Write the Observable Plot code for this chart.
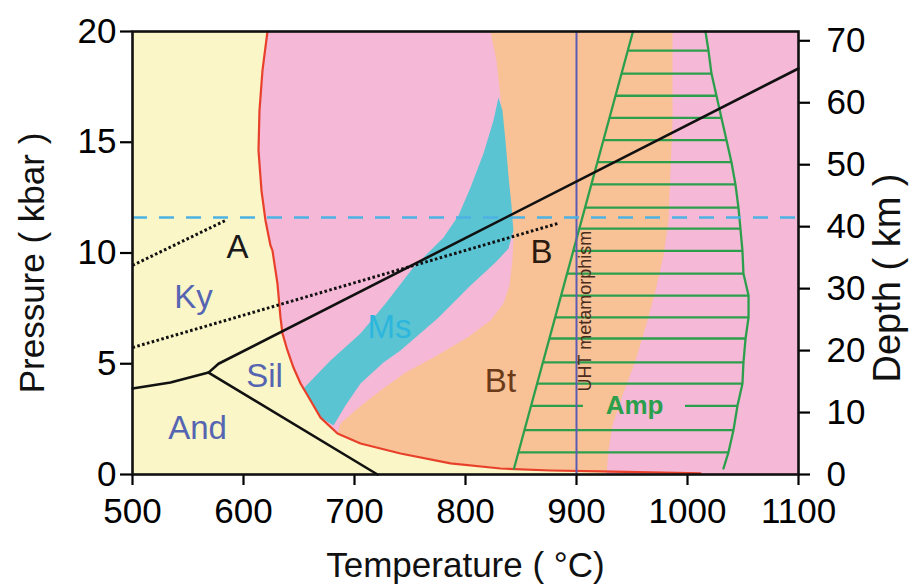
<!DOCTYPE html>
<html><head><meta charset="utf-8">
<script src="https://cdn.jsdelivr.net/npm/d3@7"></script>
<script src="https://cdn.jsdelivr.net/npm/@observablehq/plot@0.6"></script>
<style>body{margin:0;background:#fff}svg{display:block}</style>
</head><body><div id="chart"></div>
<script>
// ---- axes ----
const xTicks = [500, 600, 700, 800, 900, 1000, 1100];
const pTicks = [0, 5, 10, 15, 20];
const depthTicks = [0, 10, 20, 30, 40, 50, 60, 70];
const kmPerKbar = 3.575;

// ---- field boundaries [T (°C), P (kbar)] ----
const solidus = [[621.6,20],[617.1,18.24],[614.4,16.43],[613.5,14.63],[616.2,12.82],[619.8,11.47],[624.3,10.34],[626.1,10.11],[630.6,8.62],[633.3,7.09],[635.1,6.37],[639.6,5.6],[645.0,4.83],[651.4,4.11],[660.4,3.34],[669.4,2.57],[684.7,1.85],[705.4,1.4],[741.4,0.95],[786.5,0.5],[831.5,0.27],[876.6,0.18],[921.6,0.14],[1011.7,0.05]];
const btEdge = [[822.5,20],[827.9,18.69],[831.5,17.02],[834.2,15.53],[836.9,13.95],[840.5,12.37],[843.2,10.7],[842.3,9.66],[839.6,8.53],[834.2,7.72],[822.5,6.95],[801.8,6.19],[771.2,5.28],[746,4.6],[723.4,3.79],[702.7,2.98],[687.4,2.3],[684.7,1.85]];
const hotEdge = [[986.5,20],[986.5,15.98],[982.9,11.47],[978.4,9.89],[971.2,8.31],[964,6.95],[953.2,5.15],[941.4,3.57],[932.4,2.21],[928.8,1.08],[927,0]];
const msBand = [[829.7,17.02],[833.3,16.43],[836,15.08],[838.7,13.5],[841.4,12.14],[843.2,11.02],[838.7,10.2],[827,9.57],[804.5,8.53],[774.8,7.04],[741.4,5.6],[726.1,5.06],[705.4,4.11],[691.9,3.12],[681.1,2.21],[669.4,2.57],[660.4,3.34],[654.1,3.88],[678.4,5.15],[705.4,6.37],[728,7.72],[752.3,9.3],[764,9.89],[780.2,10.7],[793.7,11.69],[804.5,12.96],[816.2,14.49],[825.2,15.98]];

// ---- lines ----
const kySil = [[568.5,4.6],[577.5,5.0],[1100,18.33]];
const andKy = [[500,3.88],[534.2,4.15],[568.5,4.6]];
const andSil = [[568.5,4.6],[720.7,0]];
const dotA = [[500,9.44],[583.8,11.47]];
const dotB = [[500,5.73],[882.9,11.33]];
const dashedP = [11.6];
const uhtT = [900];

// ---- amphibole field ----
const ampLeft = [[950.9,20],[843.7,0.27]];
const ampRight = [[1016.2,20],[1018.9,19.14],[1021.6,18.1],[1026.1,17.1],[1030.6,16.1],[1035.1,15.1],[1039.6,14.1],[1043.2,13.1],[1045.9,12.05],[1047.7,11.1],[1049.5,10.1],[1050.4,9.07],[1055,8.08],[1055,7.09],[1052.3,6.14],[1050.4,5.06],[1049.5,4.1],[1045,3.1],[1041.4,2.0],[1036.9,1.0],[1032.4,0.27]];
const hatchP = [19.14,18.1,17.1,16.1,15.1,14.1,13.1,12.05,11.1,10.1,9.07,8.08,7.09,6.14,5.06,4.1,3.1,2.0,1.0];
const hatchLeftT = [946.2,940.6,935.1,929.7,924.3,918.8,913.4,907.7,902.5,897.1,891.5,886.1,880.8,875.6,869.7,864.5,859.1,853.1,847.7];
const hatchRightT = [1018.9,1021.6,1026.1,1030.6,1035.1,1039.6,1043.2,1045.9,1047.7,1049.5,1050.4,1055,1055,1052.3,1050.4,1049.5,1045,1041.4,1036.9];
const hatchGapP = 3.1, hatchGap = [906.3, 998.2];

// ---- labels ----
const labelText = ["A","B","Ky","Sil","And","Ms","Bt"];
const labelT = [594.6,868.5,555,618.9,558.6,731.5,831.5];
const labelP = [10.25,10.02,7.99,4.42,2.08,6.64,4.2];
const labelColor = ["#1a1a1a","#2a1a10","#5565b2","#5565b2","#5565b2","#2cb6dd","#6b3a18"];

const yellow = "#faf6c7", pink = "#f5b8d6", orange = "#f8c196", cyan = "#5bc4d3", green = "#2c9f4d";

const pt = a => a.map(([T,P]) => ({T,P}));
const pinkPoly = pt([...solidus, [1100,0],[1100,20]]);
const orangePoly = pt([...btEdge, ...solidus.filter(d => d[1] < 1.85), [1100,0],[1100,20]]);
const hotPoly = pt([...hotEdge, [1100,0],[1100,20]]);
const msPoly = pt(msBand);

const hatches = [];
hatchP.forEach((p,i) => {
  if (p === hatchGapP) {
    hatches.push({p, t1: hatchLeftT[i], t2: hatchGap[0]});
    hatches.push({p, t1: hatchGap[1], t2: hatchRightT[i]});
  } else hatches.push({p, t1: hatchLeftT[i], t2: hatchRightT[i]});
});
const labels = labelText.map((t,i) => ({t, T: labelT[i], P: labelP[i], c: labelColor[i]}));

const poly = (d, fill) => Plot.line(d, {x:"T", y:"P", fill, stroke:"none"});
const ln = (d, o) => Plot.line(pt(d), {x:"T", y:"P", ...o});
const font = "Liberation Sans, Arial, Helvetica, sans-serif";

const chart = Plot.plot({
  width: 915, height: 585,
  marginLeft: 132, marginRight: 117, marginTop: 31, marginBottom: 111,
  style: {fontFamily: font, background: "#fff"},
  x: {domain: [500, 1100]},
  y: {domain: [0, 20]},
  marks: [
    Plot.frame({fill: yellow, stroke: "none"}),
    poly(pinkPoly, pink),
    poly(orangePoly, orange),
    poly(hotPoly, pink),
    poly(msPoly, cyan),
    ln(solidus, {stroke: "#e8402a", strokeWidth: 2.2}),
    Plot.ruleY(hatches, {y: "p", x1: "t1", x2: "t2", stroke: green, strokeWidth: 2.3}),
    ln(ampLeft, {stroke: green, strokeWidth: 2.3}),
    ln(ampRight, {stroke: green, strokeWidth: 2.3}),
    Plot.ruleX(uhtT, {y1: 0, y2: 20, stroke: "#5a5cb3", strokeWidth: 2}),
    Plot.ruleY(dashedP, {stroke: "#4cb2e4", strokeWidth: 2.6, strokeDasharray: "15,12"}),
    ln(kySil, {stroke: "#111", strokeWidth: 2.6}),
    ln(andKy, {stroke: "#111", strokeWidth: 2.6}),
    ln(andSil, {stroke: "#111", strokeWidth: 2.6}),
    ln(dotA, {stroke: "#111", strokeWidth: 3, strokeDasharray: "2.6,2.4", strokeLinecap: "butt"}),
    ln(dotB, {stroke: "#111", strokeWidth: 3, strokeDasharray: "2.6,2.4", strokeLinecap: "butt"}),
    Plot.text(labels, {x: "T", y: "P", text: "t", fill: "c", fontSize: 33, lineAnchor: "middle"}),
    Plot.text(["Amp"], {x: () => 952.3, y: () => 3.1, fill: green, fontSize: 26, fontWeight: "bold", lineAnchor: "middle"}),
    Plot.text(["UHT metamorphism"], {x: () => 900, y: () => 7.38, dx: 9, rotate: -90, fill: "#4a2c1c", fontSize: 18, lineAnchor: "middle", textAnchor: "middle"}),
    Plot.axisX(xTicks, {anchor: "bottom", tickSize: 11, tickPadding: 13, fontSize: 35, strokeWidth: 2.2, label: null, tickFormat: d => String(d)}),
    Plot.axisY(pTicks, {anchor: "left", tickSize: 12, tickPadding: 4, fontSize: 35, strokeWidth: 2.2, label: null, tickFormat: d => String(d)}),
    Plot.axisY(depthTicks.map(d => d / kmPerKbar), {anchor: "right", tickSize: 11, tickPadding: 17, fontSize: 35, strokeWidth: 2.2, label: null, tickFormat: d => String(Math.round(d * kmPerKbar))}),
    Plot.text(["Temperature ( °C)"], {frameAnchor: "bottom", dy: 91, fontSize: 35, fill: "#111", lineAnchor: "middle", textAnchor: "middle"}),
    Plot.text(["Pressure ( kbar )"], {frameAnchor: "left", dx: -100, dy: 10, rotate: -90, fontSize: 35, fill: "#111", lineAnchor: "middle", textAnchor: "middle"}),
    Plot.text(["Depth ( km )"], {frameAnchor: "right", dx: 89, dy: 25, rotate: -90, fontSize: 38, fill: "#111", lineAnchor: "middle", textAnchor: "middle"}),
    Plot.frame({stroke: "#111", strokeWidth: 2.6})
  ]
});
document.getElementById("chart").appendChild(chart);
</script>
</body></html>
